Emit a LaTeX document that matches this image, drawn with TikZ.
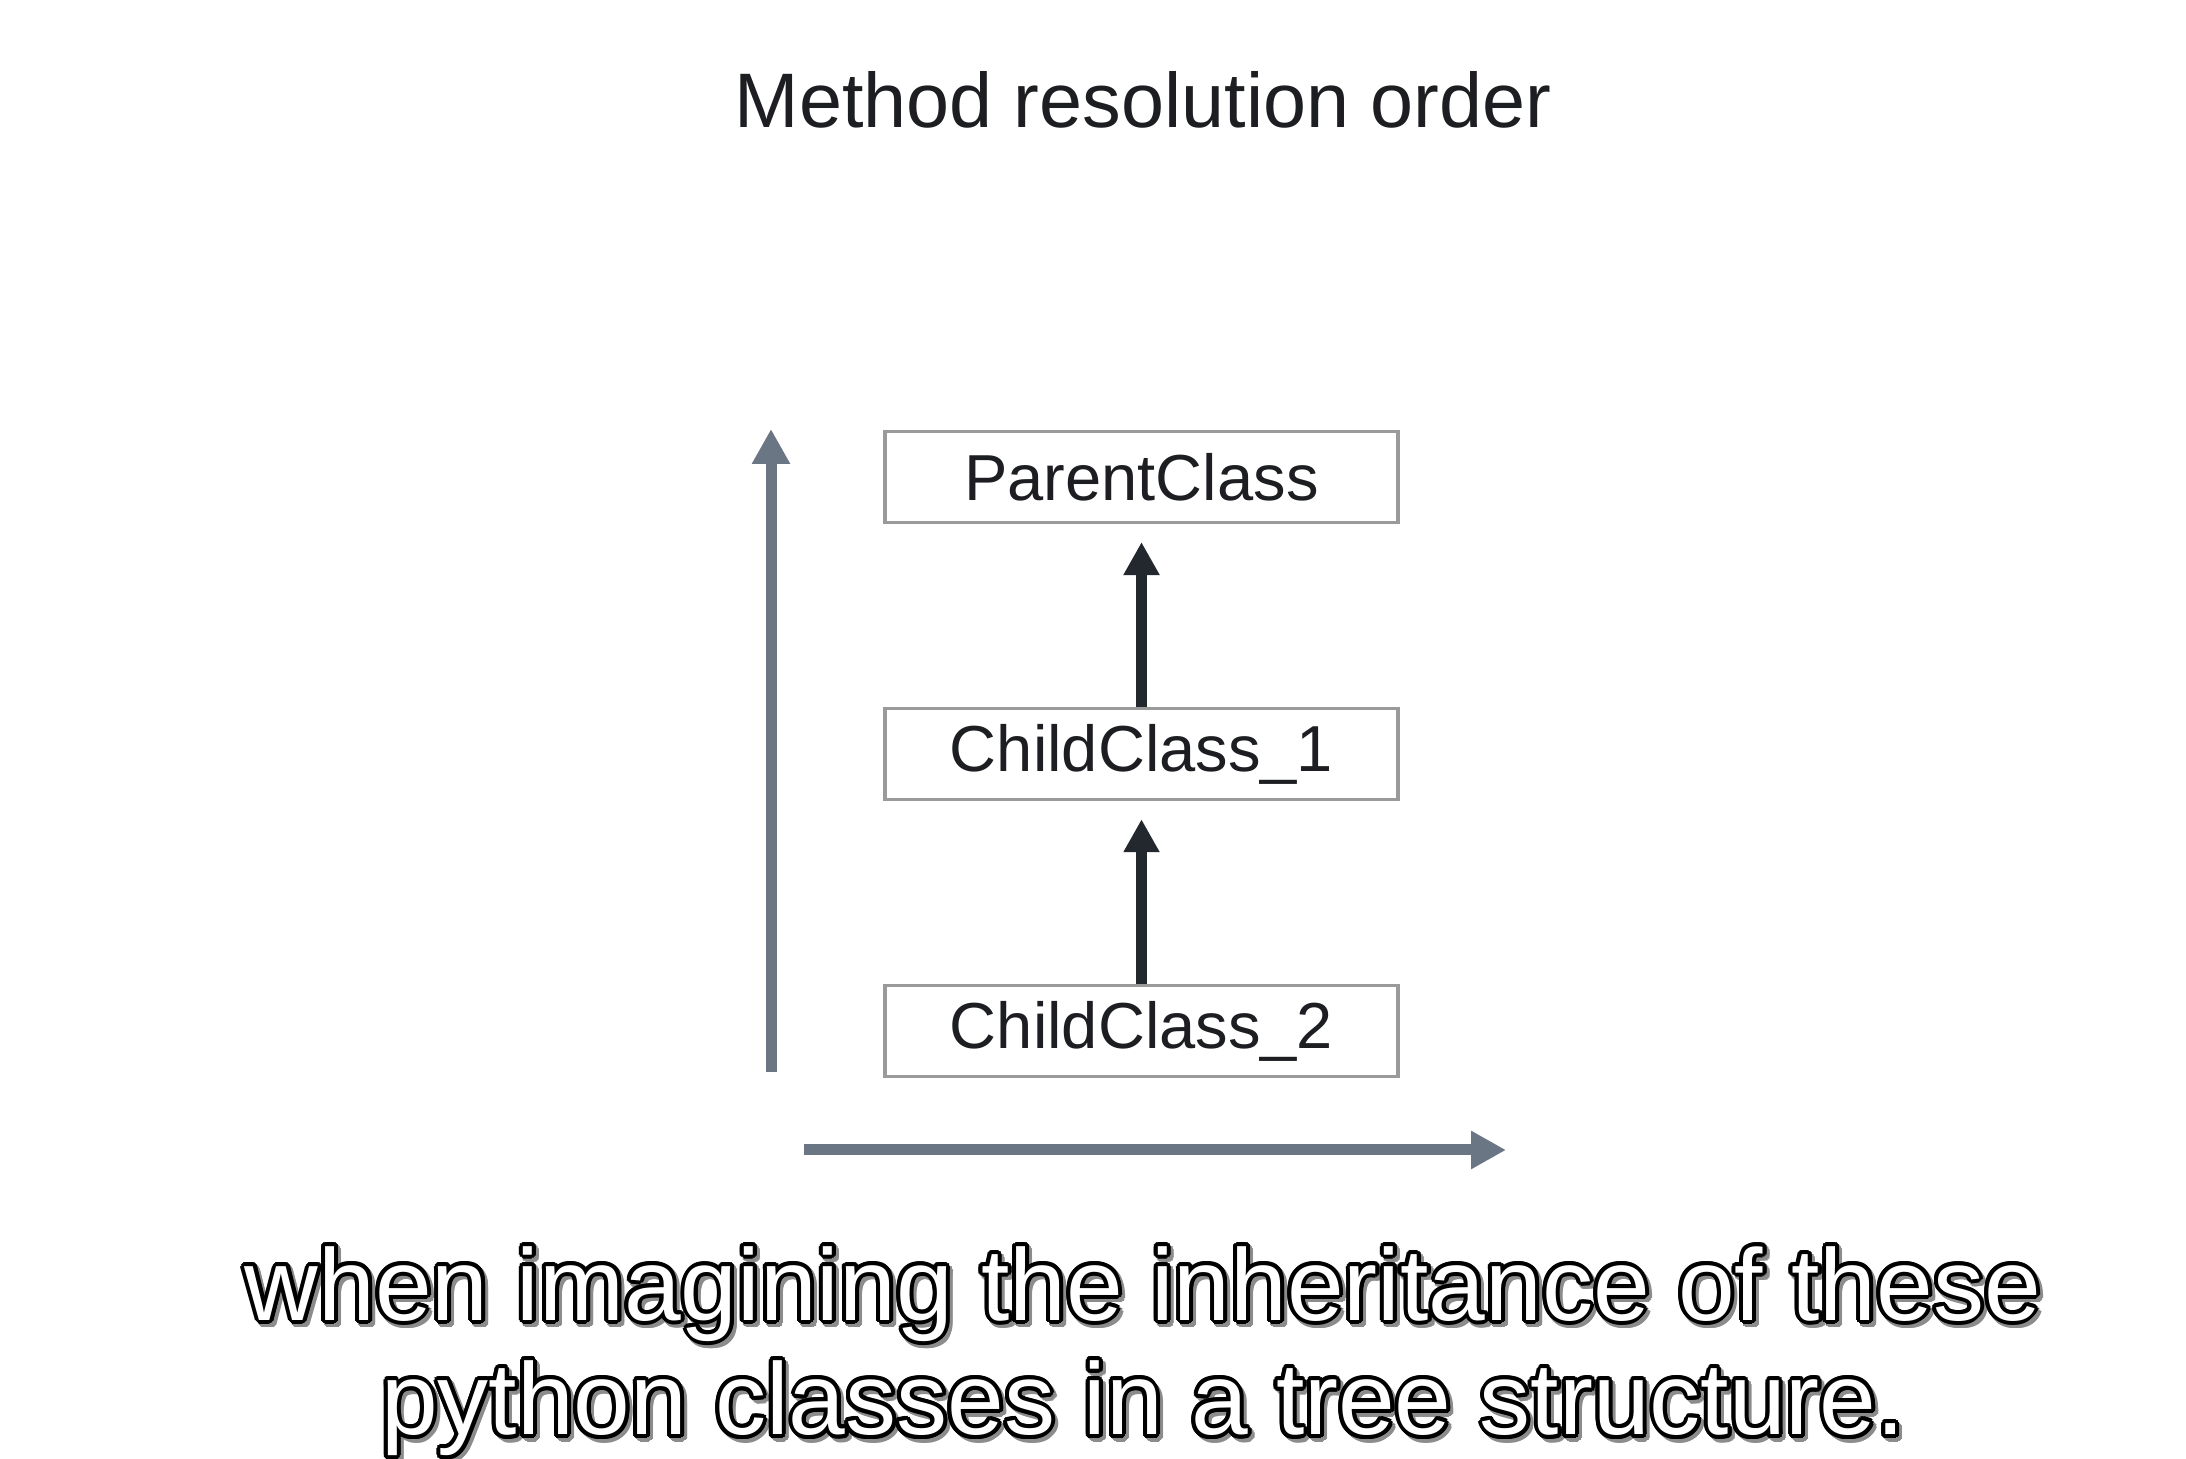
\documentclass[tikz,border=0pt]{standalone}
\usepackage{fontspec}
\setmainfont{Liberation Sans}
\usetikzlibrary{arrows.meta,positioning}
\definecolor{AxisGray}{HTML}{6B7685}
\definecolor{ArrowDark}{HTML}{23282E}
\definecolor{BoxBorder}{HTML}{9A9A9A}
\definecolor{ShadowGray}{HTML}{8C8C8C}
\definecolor{TitleText}{HTML}{1C1E21}
\tikzstyle{ClassNode} =[draw=BoxBorder,line width=0.9pt,fill=white,minimum width=5.13cm,minimum height=0.91cm,text=TitleText,font=\fontsize{18.5}{22}\selectfont]
\tikzstyle{InheritArrow} =[draw=ArrowDark,fill=ArrowDark,line width=0.11cm,-{Triangle[width=0.34cm,length=0.33cm]}]
\tikzstyle{AxisArrow} =[draw=AxisGray,fill=AxisGray,line width=0.11cm,-{Triangle[width=0.36cm,length=0.35cm]}]
\tikzstyle{CaptionText} =[align=center,inner sep=0pt,font=\fontsize{29}{32.6}\selectfont]

\begin{document}
\begin{tikzpicture}
\useasboundingbox (0,0) rectangle (21.86,14.58);
\node[text=TitleText,font=\fontsize{22}{26}\selectfont](TitleNode) at (11.43,13.58){Method resolution order};
\node[ClassNode](ParentClass) at (11.415,9.81){ParentClass};
\node[ClassNode,below=1.83cm of ParentClass](ChildClass-1){ChildClass\_1};
\node[ClassNode,below=1.83cm of ChildClass-1](ChildClass-2){ChildClass\_2};
\draw[InheritArrow,shorten >=0.18cm] (ChildClass-1) -- (ParentClass);
\draw[InheritArrow,shorten >=0.18cm] (ChildClass-2) -- (ChildClass-1);
% axes
\coordinate (Axis-Bottom) at (7.71,3.86);
\coordinate (Axis-Top) at (7.71,10.29);
\coordinate (Axis-Left) at (8.04,3.08);
\coordinate (Axis-Right) at (15.06,3.08);
\draw[AxisArrow] (Axis-Bottom) -- (Axis-Top);
\draw[AxisArrow] (Axis-Left) -- (Axis-Right);
% caption
\foreach \ang [count=\k] in {0,22.5,...,337.5}{
\node[CaptionText,text=ShadowGray,shift={(\ang:0.04)},xshift=0.03cm,yshift=-0.035cm](Caption-Shadow-\k) at (11.43,1.07){when imagining the inheritance of these\\python classes in a tree structure.};
}
\foreach \ang [count=\k] in {0,22.5,...,337.5}{
\node[CaptionText,text=black,shift={(\ang:0.04)}](Caption-Outline-\k) at (11.43,1.07){when imagining the inheritance of these\\python classes in a tree structure.};
}
\node[CaptionText,text=white](Caption) at (11.43,1.07){when imagining the inheritance of these\\python classes in a tree structure.};
\end{tikzpicture}
\end{document}
